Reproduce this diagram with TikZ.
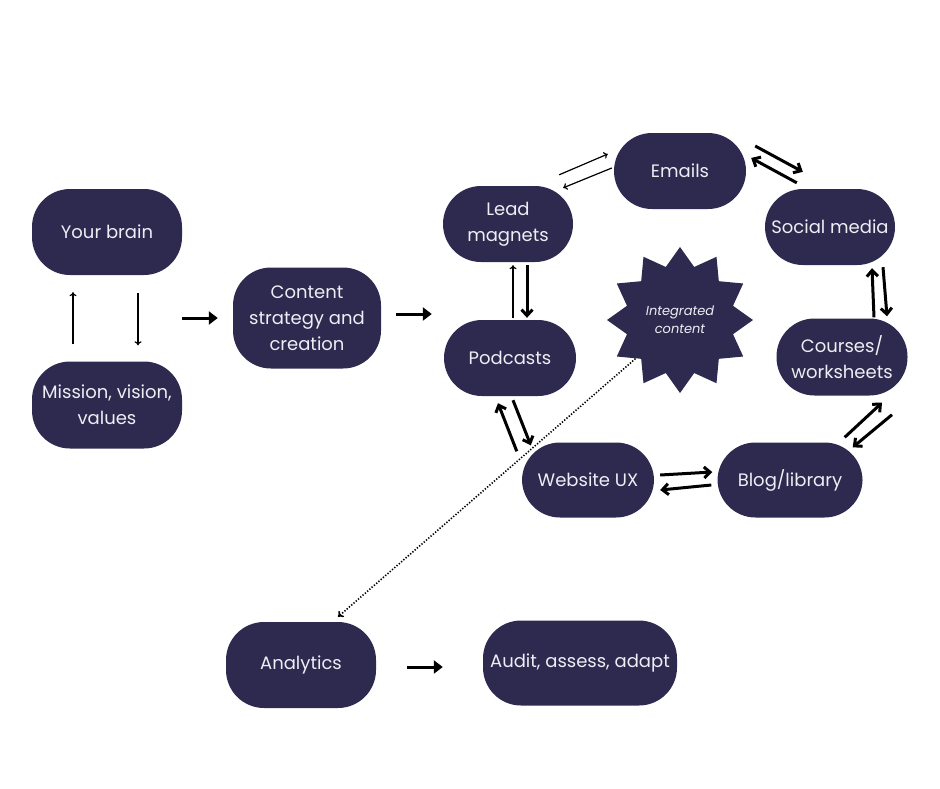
\documentclass[tikz,border=0pt]{standalone}
\usepackage{fontspec}
\setmainfont{Poppins}
\usetikzlibrary{arrows.meta,shapes.geometric}
\definecolor{navy}{HTML}{2E2A4F}
\definecolor{paper}{HTML}{EEEDF3}

\begin{document}
\begin{tikzpicture}[
    x=1pt, y=-1pt,
    every node/.style={font=\fontsize{18}{26}\selectfont, text=paper},
    box/.style={
        fill=navy,
        rounded corners=38pt,
        align=center,
        inner sep=0pt
    },
    burst/.style={
        star,
        star points=12,
        star point ratio=1.33,
        fill=navy,
        minimum size=146pt,
        inner sep=0pt,
        align=center,
        font=\fontsize{13}{18}\selectfont\itshape
    },
    thinarr/.style={-{To[length=4pt,width=7pt]}, line width=1.2pt},
    pairarr/.style={-{Straight Barb[length=6pt,width=11pt]}, line width=3pt},
    fatarr/.style={-{Triangle[length=9pt,width=13pt]}, line width=3pt},
    dotarr/.style={-{To[length=5pt,width=8pt]}, line width=1.6pt, dash pattern=on 1.3pt off 1.7pt}
]

    \useasboundingbox (0,0) rectangle (940,788);

    % Left column
    \node[box, minimum width=150pt, minimum height=86pt] (brain) at (107,232) {Your brain};
    \node[box, minimum width=150pt, minimum height=87pt] (mission) at (107,405) {Mission, vision,\\ values};

    \draw[thinarr] ([xshift=-34pt, yshift=17pt]mission.north) -- ([xshift=-34pt, yshift=-17pt]brain.south);
    \draw[thinarr] ([xshift=31pt, yshift=-18pt]brain.south) -- ([xshift=31pt, yshift=16pt]mission.north);

    % Strategy
    \node[box, minimum width=148pt, minimum height=101pt] (strategy) at (307,318) {Content\\ strategy and\\ creation};

    \draw[fatarr, shorten >=15pt] (brain.east |- strategy.west) -- (strategy.west);

    % Content cycle
    \node[box, minimum width=130pt, minimum height=76pt] (lead) at (508,224) {Lead\\ magnets};
    \node[box, minimum width=132pt, minimum height=76pt] (emails) at (680,171) {Emails};
    \node[box, minimum width=130pt, minimum height=76pt] (social) at (830,227) {Social media};
    \node[box, minimum width=132pt, minimum height=76pt] (podcasts) at (510,358) {Podcasts};
    \node[box, minimum width=131pt, minimum height=77pt] (courses) at (842,357) {Courses/\\ worksheets};
    \node[box, minimum width=132pt, minimum height=75pt] (website) at (588,480) {Website UX};
    \node[box, minimum width=145pt, minimum height=75pt] (blog) at (790,480) {Blog/library};
    \node[burst] (hub) at (680,320) {Integrated\\ content};

    \draw[fatarr, shorten <=15pt, shorten >=12pt]
        ([yshift=4pt]strategy.east) -- ([yshift=4pt]strategy.east -| podcasts.west);

    \draw[thinarr] ([xshift=-14pt, yshift=11pt]lead.north east) -- ([xshift=-6pt, yshift=17pt]emails.west);
    \draw[thinarr] ([xshift=-2pt, yshift=3pt]emails.west) -- ([xshift=-10pt, yshift=-2pt]lead.north east);

    \draw[pairarr] ([xshift=9pt, yshift=25pt]emails.east) -- ([xshift=38pt, yshift=17pt]social.north west);
    \draw[pairarr] ([xshift=32pt, yshift=6pt]social.north west) -- ([xshift=5pt, yshift=13pt]emails.east);

    \draw[thinarr] ([xshift=3pt, yshift=2pt]podcasts.north) -- ([xshift=5pt, yshift=-3pt]lead.south);
    \draw[pairarr] ([xshift=19pt, yshift=-3pt]lead.south) -- ([xshift=17pt, yshift=2pt]podcasts.north);

    \draw[pairarr] ([xshift=-5pt, yshift=-9pt]website.north west) -- ([xshift=-12pt, yshift=-7pt]podcasts.south);
    \draw[pairarr] ([xshift=3pt, yshift=-4pt]podcasts.south) -- ([xshift=9pt, yshift=-3pt]website.north west);

    \draw[pairarr] ([xshift=6pt, yshift=5pt]website.east) -- ([xshift=-5pt, yshift=8pt]blog.west);
    \draw[pairarr] ([xshift=-6pt, yshift=-5pt]blog.west) -- ([xshift=6pt, yshift=-10pt]website.east);

    \draw[pairarr] ([xshift=-18pt, yshift=5pt]blog.north east) -- ([xshift=40pt, yshift=-7pt]courses.south);
    \draw[pairarr] ([xshift=50pt, yshift=-19pt]courses.south) -- ([xshift=-10pt, yshift=-5pt]blog.north east);

    \draw[pairarr] ([xshift=32pt, yshift=1pt]courses.north) -- ([xshift=42pt, yshift=-3pt]social.south);
    \draw[pairarr] ([xshift=53pt, yshift=-2pt]social.south) -- ([xshift=45pt, yshift=2pt]courses.north);

    % Review
    \node[box, minimum width=150pt, minimum height=86pt] (analytics) at (301,665) {Analytics};
    \node[box, minimum width=194pt, minimum height=85pt] (audit) at (580,663) {Audit, assess, adapt};

    \draw[dotarr, shorten <=59pt] (hub.center) -- ([xshift=37pt, yshift=5pt]analytics.north);

    \draw[fatarr, shorten <=31pt, shorten >=40pt]
        ([yshift=-2pt]analytics.east) -- ([yshift=-2pt]analytics.east -| audit.west);

\end{tikzpicture}
\end{document}
